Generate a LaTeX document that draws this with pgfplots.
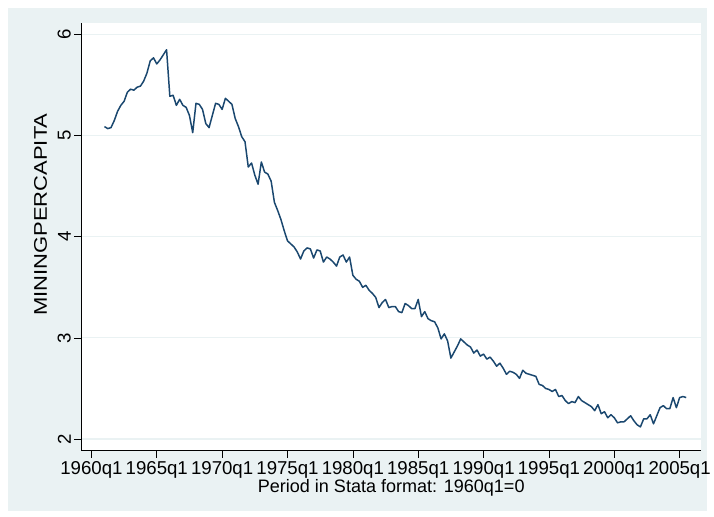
\documentclass[border=0pt]{standalone}
\usepackage{fontspec}
\setmainfont{Liberation Sans}
\newfontfamily\ylabfont[FakeStretch=1.2]{Liberation Sans}
\usepackage{pgfplots}
\pgfplotsset{compat=1.18}
\usepackage{pgfplotstable}
\definecolor{stbg}{RGB}{234,242,243}
\definecolor{stnavy}{RGB}{26,71,111}
\pgfplotstableread{
q v
4 5.09
5 5.07
6 5.08
7 5.15
8 5.24
9 5.30
10 5.34
11 5.43
12 5.46
13 5.45
14 5.48
15 5.49
16 5.54
17 5.62
18 5.74
19 5.77
20 5.71
21 5.75
22 5.80
23 5.85
24 5.39
25 5.40
26 5.30
27 5.36
28 5.30
29 5.28
30 5.20
31 5.03
32 5.32
33 5.31
34 5.26
35 5.12
36 5.08
37 5.20
38 5.32
39 5.31
40 5.26
41 5.37
42 5.34
43 5.31
44 5.17
45 5.09
46 4.99
47 4.94
48 4.69
49 4.73
50 4.61
51 4.52
52 4.74
53 4.64
54 4.62
55 4.55
56 4.34
57 4.26
58 4.17
59 4.06
60 3.96
61 3.93
62 3.90
63 3.85
64 3.78
65 3.86
66 3.89
67 3.88
68 3.79
69 3.87
70 3.86
71 3.75
72 3.80
73 3.78
74 3.75
75 3.71
76 3.80
77 3.82
78 3.75
79 3.80
80 3.62
81 3.58
82 3.56
83 3.50
84 3.52
85 3.47
86 3.44
87 3.40
88 3.30
89 3.35
90 3.38
91 3.30
92 3.31
93 3.31
94 3.26
95 3.25
96 3.34
97 3.32
98 3.29
99 3.29
100 3.38
101 3.21
102 3.26
103 3.19
104 3.17
105 3.16
106 3.10
107 2.99
108 3.04
109 2.97
110 2.80
111 2.86
112 2.92
113 2.99
114 2.96
115 2.93
116 2.91
117 2.85
118 2.88
119 2.82
120 2.84
121 2.79
122 2.81
123 2.77
124 2.72
125 2.75
126 2.70
127 2.64
128 2.67
129 2.66
130 2.64
131 2.60
132 2.68
133 2.65
134 2.64
135 2.63
136 2.62
137 2.54
138 2.53
139 2.50
140 2.49
141 2.47
142 2.49
143 2.42
144 2.43
145 2.38
146 2.35
147 2.37
148 2.36
149 2.42
150 2.38
151 2.36
152 2.34
153 2.32
154 2.28
155 2.34
156 2.25
157 2.27
158 2.21
159 2.24
160 2.21
161 2.16
162 2.17
163 2.17
164 2.20
165 2.23
166 2.18
167 2.14
168 2.12
169 2.20
170 2.20
171 2.24
172 2.15
173 2.23
174 2.31
175 2.33
176 2.30
177 2.30
178 2.41
179 2.31
180 2.41
181 2.42
182 2.41
}\datatable
\begin{document}
\begin{tikzpicture}[x=1bp,y=1bp]
\fill[white] (0,0) rectangle (714,522);
\fill[stbg] (8,6) rectangle (714,514);
\begin{axis}[
  at={(82bp,67bp)}, anchor=south west,
  scale only axis, width=626bp, height=431.5bp,
  xmin=-3.12, xmax=186.6, ymin=1.885, ymax=6.112,
  axis background/.style={fill=white},
  axis x line*=bottom, axis y line*=left,
  axis line style={black, line width=0.6bp},
  tick style={black, line width=0.6bp},
  tick align=outside, major tick length=7bp,
  xtick={0,20,...,180},
  xticklabels={1960q1,1965q1,1970q1,1975q1,1980q1,1985q1,1990q1,1995q1,2000q1,2005q1},
  ytick={2,3,4,5,6},
  yticklabels={2,3,4,5,6},
  ymajorgrids, grid style={stbg, line width=1.2bp},
  /pgf/number format/assume math mode=true,
  tick label style={font=\fontsize{18.8bp}{21bp}\selectfont},
  yticklabel style={rotate=90, anchor=south},
  xticklabel style={anchor=north},
  xlabel={Period in Stata format: 1960q1=0},
  ylabel={MININGPERCAPITA},
  xlabel style={font=\fontsize{18.2bp}{20bp}\selectfont, at={(axis description cs:0.5,0)}, anchor=north, yshift=-26bp},
  ylabel style={font=\ylabfont\fontsize{18.5bp}{20bp}\selectfont, at={(axis description cs:0,0.552)}, anchor=south, yshift=31bp},
  clip=false,
]
\addplot[stnavy, line width=1.5bp, no marks, line join=round] table[x=q,y=v] {\datatable};
\end{axis}
\end{tikzpicture}
\end{document}
